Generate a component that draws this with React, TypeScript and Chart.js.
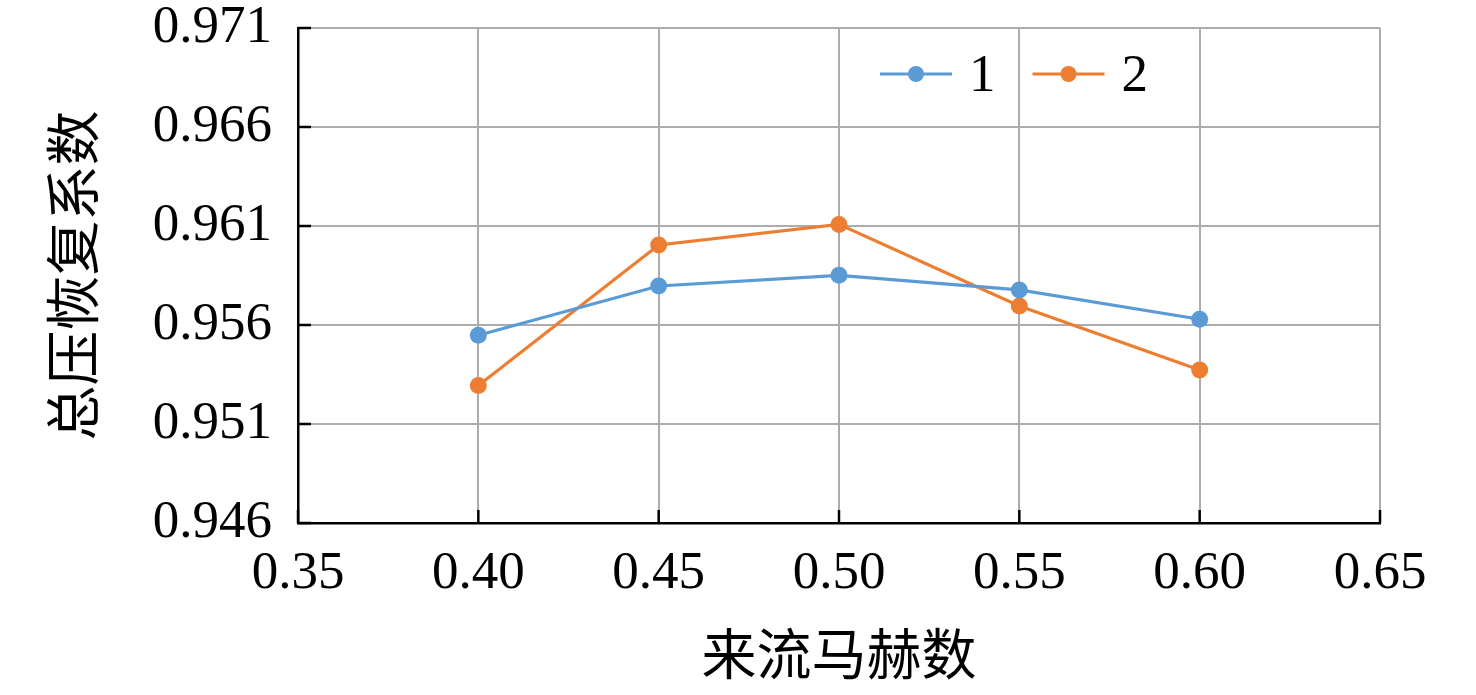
import { useEffect, useRef } from "react";
import { Chart, registerables } from "chart.js";

Chart.register(...registerables);

// ---- data ----
const machNumbers = [0.4, 0.45, 0.5, 0.55, 0.6];
const series1 = [0.95548, 0.95797, 0.95851, 0.95777, 0.95629];
const series2 = [0.95295, 0.96004, 0.96108, 0.95696, 0.95373];
const seriesNames = ["1", "2"];
const xTickLabels = ["0.35", "0.40", "0.45", "0.50", "0.55", "0.60", "0.65"];
const yTickLabels = ["0.946", "0.951", "0.956", "0.961", "0.966", "0.971"];
const xTitle = "来流马赫数";
const yTitle = "总压恢复系数";

const W = 1476;
const H = 695;
const FONT = "'Liberation Serif', 'Times New Roman', 'Noto Sans CJK SC', serif";
const COLORS = ["#5b9bd5", "#ed7d31"];

const innerTicks = {
  id: "innerTicks",
  beforeDatasetsDraw(chart: any) {
    const { ctx, chartArea, scales } = chart;
    ctx.save();
    ctx.strokeStyle = "#000";
    ctx.lineWidth = 2.5;
    scales.x.ticks.forEach((t: any) => {
      const px = scales.x.getPixelForValue(t.value);
      ctx.beginPath();
      ctx.moveTo(px, chartArea.bottom);
      ctx.lineTo(px, chartArea.bottom - 13);
      ctx.stroke();
    });
    scales.y.ticks.forEach((t: any) => {
      const py = scales.y.getPixelForValue(t.value);
      ctx.beginPath();
      ctx.moveTo(chartArea.left, py);
      ctx.lineTo(chartArea.left + 13, py);
      ctx.stroke();
    });
    ctx.restore();
  },
};

const inlineLegend = {
  id: "inlineLegend",
  afterDraw(chart: any) {
    const { ctx, chartArea } = chart;
    let x = chartArea.left + 582;
    const y = chartArea.top + 46;
    ctx.save();
    ctx.font = `53px ${FONT}`;
    ctx.textBaseline = "alphabetic";
    ctx.textAlign = "left";
    chart.data.datasets.forEach((ds: any) => {
      ctx.strokeStyle = ds.borderColor;
      ctx.lineWidth = 3;
      ctx.beginPath();
      ctx.moveTo(x, y);
      ctx.lineTo(x + 72, y);
      ctx.stroke();
      ctx.fillStyle = ds.borderColor;
      ctx.beginPath();
      ctx.arc(x + 36, y, 8, 0, Math.PI * 2);
      ctx.fill();
      x += 72 + 17;
      ctx.fillStyle = "#000";
      ctx.fillText(ds.label, x, y + 17);
      x += ctx.measureText(ds.label).width + 37;
    });
    ctx.restore();
  },
};

export default function App() {
  const ref = useRef<HTMLCanvasElement | null>(null);

  useEffect(() => {
    document.body.style.margin = "0";
    document.body.style.overflow = "hidden";
    const canvas = ref.current;
    if (!canvas) return;
    const seriesList = [series1, series2];
    const chart = new Chart(canvas, {
      type: "line",
      data: {
        datasets: seriesList.map((s, i) => ({
          label: seriesNames[i],
          data: machNumbers.map((m, j) => ({ x: m, y: s[j] })),
          borderColor: COLORS[i],
          backgroundColor: COLORS[i],
          pointBackgroundColor: COLORS[i],
          pointBorderWidth: 0,
          pointRadius: 8.5,
          borderWidth: 3.2,
          tension: 0,
          fill: false,
        })),
      },
      options: {
        responsive: false,
        animation: false,
        devicePixelRatio: 1,
        layout: { padding: { left: 0, top: 28, right: 96, bottom: 0 } },
        plugins: {
          legend: { display: false },
          tooltip: { enabled: false },
        },
        scales: {
          x: {
            type: "linear",
            min: 0.35,
            max: 0.65,
            ticks: {
              stepSize: 0.05,
              padding: 19,
              color: "#000",
              font: { family: FONT, size: 53, lineHeight: 1.2 },
              callback: (_v: any, i: number) => xTickLabels[i],
              maxRotation: 0,
              autoSkip: false,
            },
            grid: { color: "#acacac", lineWidth: 2, drawTicks: false },
            border: { color: "#000", width: 2.5 },
            title: {
              display: true,
              text: xTitle,
              color: "#000",
              font: { family: FONT, size: 55, lineHeight: 1 },
              padding: { top: 0, bottom: 8 },
            },
            afterFit: (s: any) => {
              s.height = 172;
              s.paddingLeft = 0;
              s.paddingRight = 0;
            },
          },
          y: {
            type: "linear",
            min: 0.946,
            max: 0.971,
            ticks: {
              stepSize: 0.005,
              padding: 26,
              color: "#000",
              font: { family: FONT, size: 53, lineHeight: 1.2 },
              callback: (_v: any, i: number) => yTickLabels[i],
              autoSkip: false,
            },
            grid: { color: "#acacac", lineWidth: 2, drawTicks: false },
            border: { color: "#000", width: 2.5 },
            title: {
              display: true,
              text: yTitle,
              color: "#000",
              font: { family: FONT, size: 55, lineHeight: 1 },
              padding: { top: 51, bottom: 0 },
            },
            afterFit: (s: any) => {
              s.width = 298;
              s.paddingTop = 0;
              s.paddingBottom = 0;
            },
          },
        },
      },
      plugins: [innerTicks, inlineLegend],
    } as any);
    return () => chart.destroy();
  }, []);

  return (
    <div style={{ width: W, height: H }}>
      <canvas ref={ref} width={W} height={H} style={{ display: "block", width: W, height: H }} />
    </div>
  );
}
